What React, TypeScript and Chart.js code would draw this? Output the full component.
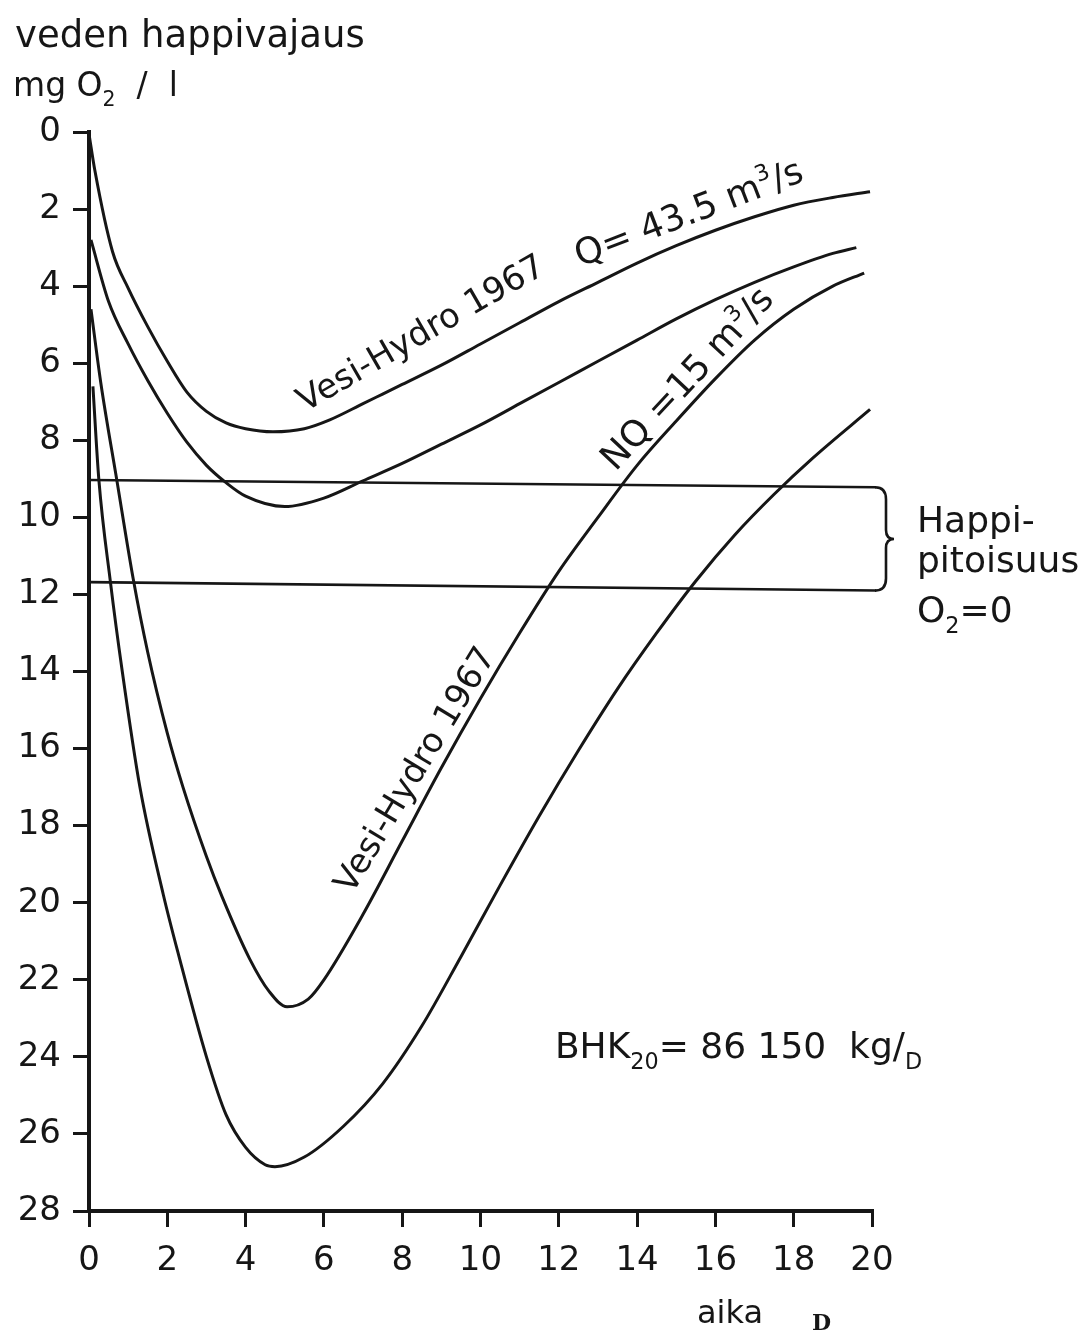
import React, { useEffect, useRef } from "react";
import { Chart, registerables } from "chart.js";

Chart.register(...registerables);

const FONT = '"DejaVu Sans", "Noto Sans", sans-serif';
const INK = "#161616";

// Axis ranges / tick step
const X_MIN = 0;
const X_MAX = 20;
const Y_MIN = 0;
const Y_MAX = 28;
const TICK_STEP = 2;

// Curve 1: Vesi-Hydro 1967, Q = 43.5 m3/s (upper)
const curveQX = [0, 0.15, 0.6, 1, 1.5, 2, 2.5, 3, 3.5, 4, 4.7, 5.5, 6.15, 7, 7.5, 8, 9, 10, 11, 12, 13, 14, 15, 16, 17, 18, 19, 19.95];
const curveQY = [0.05, 1.0, 3.1, 4.05, 5.05, 5.95, 6.75, 7.25, 7.55, 7.7, 7.78, 7.7, 7.47, 7.05, 6.8, 6.55, 6.05, 5.5, 4.95, 4.4, 3.9, 3.4, 2.95, 2.55, 2.2, 1.9, 1.7, 1.55];

// Curve 2: Q = 43.5 m3/s (second)
const curveQ2X = [0.05, 0.5, 1, 1.5, 2, 2.5, 3, 3.5, 4, 5, 6, 7, 8, 9, 10, 11, 12, 13, 14, 15, 16, 17, 18, 19, 19.6];
const curveQ2Y = [2.8, 4.4, 5.5, 6.45, 7.3, 8.05, 8.65, 9.1, 9.45, 9.72, 9.5, 9.05, 8.6, 8.1, 7.6, 7.05, 6.5, 5.95, 5.4, 4.85, 4.35, 3.9, 3.5, 3.15, 3.0];

// Curve 3: Vesi-Hydro 1967, NQ = 15 m3/s
const curveNQX = [0.05, 0.3, 0.71, 1.13, 1.5, 2.0, 2.4, 3.0, 3.4, 4.1, 4.6, 5.06, 5.6, 6.0, 7, 8, 9, 10, 11, 12, 13, 14, 15, 16, 17, 18, 19, 19.8];
const curveNQY = [4.6, 6.5, 9.03, 11.6, 13.5, 15.6, 17.0, 18.8, 19.85, 21.45, 22.3, 22.7, 22.5, 22.0, 20.3, 18.4, 16.5, 14.7, 13.0, 11.4, 10.0, 8.65, 7.5, 6.4, 5.4, 4.6, 4.0, 3.66];

// Curve 4: NQ = 15 m3/s (lowest)
const curveNQ2X = [0.1, 0.25, 0.55, 0.85, 1.3, 1.9, 2.3, 3.0, 3.5, 4.0, 4.5, 4.75, 5.5, 6.5, 7.5, 8.5, 9.5, 10.5, 11.5, 12.5, 13.5, 14.5, 15.5, 16.5, 17.5, 18.5, 19.95];
const curveNQ2Y = [6.6, 9.0, 11.7, 14.0, 17.0, 19.8, 21.4, 24.0, 25.5, 26.35, 26.8, 26.85, 26.6, 25.8, 24.7, 23.2, 21.4, 19.55, 17.75, 16.05, 14.45, 13.0, 11.65, 10.45, 9.4, 8.45, 7.2];

// Oxygen content O2 = 0 band (two horizontal lines)
const bandUpperX = [0, 20.1];
const bandUpperY = [9.03, 9.22];
const bandLowerX = [0, 20.1];
const bandLowerY = [11.68, 11.9];

type Part = { t: string; s?: "sub" | "sup" };

// Text labels placed in data coordinates
const curveLabels: { parts: Part[]; x: number; y: number; angle: number; size: number }[] = [
  { parts: [{ t: "Vesi-Hydro 1967" }], x: 5.52, y: 7.27, angle: -30, size: 34 },
  { parts: [{ t: "Q= 43.5 m" }, { t: "3", s: "sup" }, { t: "/s" }], x: 12.54, y: 3.5, angle: -21, size: 36 },
  { parts: [{ t: "NQ =15 m" }, { t: "3", s: "sup" }, { t: "/s" }], x: 13.45, y: 8.82, angle: -47, size: 36 },
  { parts: [{ t: "Vesi-Hydro 1967" }], x: 6.72, y: 19.8, angle: -59, size: 34 },
];
const bhkLabel: { parts: Part[]; x: number; y: number; size: number } = {
  parts: [{ t: "BHK" }, { t: "20", s: "sub" }, { t: "= 86 150  kg/" }, { t: "D", s: "sub" }],
  x: 11.9,
  y: 24.03,
  size: 36,
};
const yTitleLine1 = "veden happivajaus";
const yTitleLine2: Part[] = [{ t: "mg O" }, { t: "2", s: "sub" }, { t: "  /  l" }];
const xTitle = "aika";
const xTitleUnit = "D";
const bandLabel: Part[][] = [[{ t: "Happi-" }], [{ t: "pitoisuus" }], [{ t: "O" }, { t: "2", s: "sub" }, { t: "=0" }]];

function drawParts(ctx: CanvasRenderingContext2D, parts: Part[], x: number, y: number, size: number, family = FONT) {
  let cx = x;
  for (const p of parts) {
    const fs = p.s ? size * 0.62 : size;
    const dy = p.s === "sub" ? size * 0.3 : p.s === "sup" ? -size * 0.42 : 0;
    ctx.font = `${fs}px ${family}`;
    ctx.fillText(p.t, cx, y + dy);
    cx += ctx.measureText(p.t).width;
  }
}

const toPts = (xs: number[], ys: number[]) => xs.map((x, i) => ({ x, y: ys[i] }));

const annotationPlugin = {
  id: "annotations",
  afterDraw(chart: any) {
    const ctx: CanvasRenderingContext2D = chart.ctx;
    const xs = chart.scales.x;
    const ys = chart.scales.y;
    ctx.save();
    ctx.fillStyle = INK;
    ctx.strokeStyle = INK;
    ctx.textAlign = "left";
    ctx.textBaseline = "alphabetic";

    // axis titles
    ctx.font = `37px ${FONT}`;
    ctx.fillText(yTitleLine1, 15, 47);
    drawParts(ctx, yTitleLine2, 13, 96, 33);
    ctx.font = `32px ${FONT}`;
    ctx.fillText(xTitle, 697, 1323);
    ctx.font = `bold 22px "DejaVu Serif", serif`;
    ctx.fillText(xTitleUnit, 812, 1330);

    // curve labels
    for (const l of curveLabels) {
      ctx.save();
      ctx.translate(xs.getPixelForValue(l.x), ys.getPixelForValue(l.y));
      ctx.rotate((l.angle * Math.PI) / 180);
      drawParts(ctx, l.parts, 0, 0, l.size);
      ctx.restore();
    }

    // BHK label
    drawParts(ctx, bhkLabel.parts, xs.getPixelForValue(bhkLabel.x), ys.getPixelForValue(bhkLabel.y), bhkLabel.size);

    // brace
    const x0 = xs.getPixelForValue(X_MAX) + 3;
    const yT = ys.getPixelForValue(bandUpperY[1]);
    const yB = ys.getPixelForValue(bandLowerY[1]);
    const yM = (yT + yB) / 2;
    ctx.lineWidth = 2.6;
    ctx.beginPath();
    ctx.moveTo(x0, yT);
    ctx.quadraticCurveTo(x0 + 11, yT, x0 + 11, yT + 12);
    ctx.lineTo(x0 + 11, yM - 9);
    ctx.quadraticCurveTo(x0 + 11, yM, x0 + 19, yM);
    ctx.quadraticCurveTo(x0 + 11, yM, x0 + 11, yM + 9);
    ctx.lineTo(x0 + 11, yB - 12);
    ctx.quadraticCurveTo(x0 + 11, yB, x0, yB);
    ctx.stroke();

    // band label
    const baselines = [532, 572, 622];
    bandLabel.forEach((parts, i) => drawParts(ctx, parts, 917, baselines[i], 36));

    ctx.restore();
  },
};

export default function App() {
  const ref = useRef<HTMLCanvasElement | null>(null);

  useEffect(() => {
    if (!ref.current) return;
    const curveStyle = {
      borderColor: INK,
      borderWidth: 3,
      pointRadius: 0,
      fill: false,
      cubicInterpolationMode: "monotone" as const,
    };
    const bandStyle = {
      borderColor: INK,
      borderWidth: 2.6,
      pointRadius: 0,
      fill: false,
      tension: 0,
      clip: false as const,
    };
    const chart = new Chart(ref.current, {
      type: "line",
      data: {
        datasets: [
          { ...curveStyle, label: "Vesi-Hydro 1967 Q=43.5", data: toPts(curveQX, curveQY) },
          { ...curveStyle, label: "Q=43.5", data: toPts(curveQ2X, curveQ2Y) },
          { ...curveStyle, label: "Vesi-Hydro 1967 NQ=15", data: toPts(curveNQX, curveNQY) },
          { ...curveStyle, label: "NQ=15", data: toPts(curveNQ2X, curveNQ2Y) },
          { ...bandStyle, label: "upper", data: toPts(bandUpperX, bandUpperY) },
          { ...bandStyle, label: "lower", data: toPts(bandLowerX, bandLowerY) },
        ],
      },
      options: {
        animation: false,
        responsive: false,
        devicePixelRatio: 1,
        layout: { padding: { top: 132, right: 219, bottom: 0, left: 0 } },
        plugins: { legend: { display: false }, tooltip: { enabled: false } },
        scales: {
          x: {
            type: "linear",
            min: X_MIN,
            max: X_MAX,
            afterFit: (s: any) => {
              s.height = 122;
            },
            ticks: { stepSize: TICK_STEP, color: INK, padding: 14, font: { family: FONT, size: 34 } },
            grid: { drawOnChartArea: false, drawTicks: true, tickLength: 16, color: INK, lineWidth: 3 },
            border: { display: true, color: INK, width: 4 },
          },
          y: {
            type: "linear",
            reverse: true,
            min: Y_MIN,
            max: Y_MAX,
            afterFit: (s: any) => {
              s.width = 89;
            },
            ticks: { stepSize: TICK_STEP, color: INK, padding: 12, font: { family: FONT, size: 34 } },
            grid: { drawOnChartArea: false, drawTicks: true, tickLength: 16, color: INK, lineWidth: 3 },
            border: { display: true, color: INK, width: 4 },
          },
        },
      },
      plugins: [annotationPlugin],
    });
    return () => chart.destroy();
  }, []);

  return (
    <div style={{ position: "absolute", left: 0, top: 0, width: 1091, height: 1333, background: "#fff" }}>
      <canvas ref={ref} width={1091} height={1333} style={{ display: "block" }} />
    </div>
  );
}
